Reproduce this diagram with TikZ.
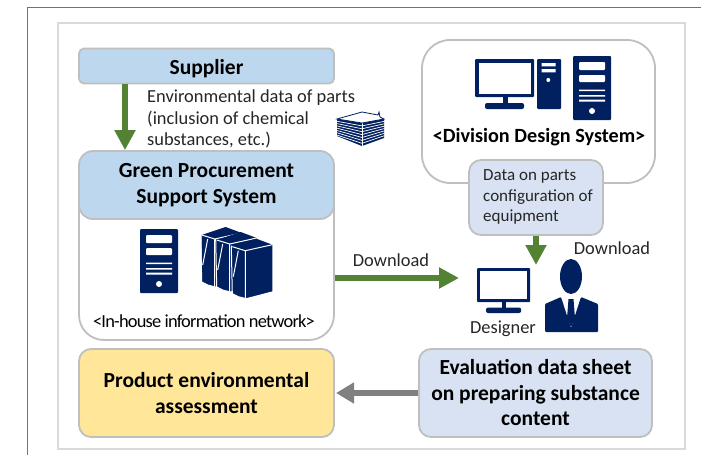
\documentclass[tikz,border=0pt]{standalone}
\usepackage{fontspec}
\setmainfont{Carlito}
\usetikzlibrary{arrows.meta}
\definecolor{navy}{HTML}{002060}
\definecolor{leaf}{HTML}{548235}
\definecolor{edge}{HTML}{BFBFBF}
\definecolor{skyfill}{HTML}{BDD7EE}
\definecolor{paleblue}{HTML}{D9E2F3}
\definecolor{sand}{HTML}{FFE699}
\tikzset{
  panel/.style={draw=edge,line width=1.8pt,rounded corners=#1,inner sep=0pt,align=center},
  bigtext/.style={font=\fontsize{21.5}{25.5}\selectfont\bfseries,execute at begin node=\rule{0pt}{21pt}},
  smalltext/.style={font=\fontsize{18.4}{21.6}\selectfont,text=black!85,inner sep=0pt},
  flow/.style={line width=6pt,draw=leaf,-{Triangle[width=20pt,length=20pt,fill=leaf]},shorten >=0pt},
  server/.pic={
    \fill[navy,rounded corners=1pt](0,0)rectangle(38,64);
    \fill[white,rounded corners=1pt](6,6)rectangle(32,14) (6,19)rectangle(32,26);
    \fill[white](6,33.5)rectangle(32,35) (6,39)rectangle(32,40.5) (6,43.5)rectangle(32,45.5);
    \fill[white](19,55)circle(3);
  },
  monitor/.pic={
    \fill[navy,rounded corners=1pt](0,0)rectangle(59,38);
    \fill[white](3.5,3.5)rectangle(55.5,34.5);
    \fill[navy](27.5,38)rectangle(32.5,44);
    \fill[navy,rounded corners=2pt](10,44)rectangle(49,50);
  },
  tower/.pic={
    \fill[navy,rounded corners=1pt](0,0)rectangle(24,50);
    \fill[white](4.6,4)rectangle(18.6,7.3) (4.6,10)rectangle(18.6,13.3);
    \fill[white](11.3,21)circle(2);
  },
}
\begin{document}
\begin{tikzpicture}[x=1pt,y=-1pt]
  \useasboundingbox(0,0)rectangle(701,455);
  \fill[white](0,0)rectangle(701,455);
  % frames
  \draw[black!55,line width=1pt](27,455)--(27,7)--(701,7);
  \draw[black!15,line width=2pt](58,23)rectangle(685,449);
  % boxes
  \node[panel=5pt,fill=skyfill,bigtext,minimum width=255pt,minimum height=35pt](supplier)at(206.5,66){Supplier};
  \node[panel=25pt,fill=white,minimum width=255pt,minimum height=189pt](network)at(206.5,245.5){};
  \node[panel=14pt,fill=skyfill,bigtext,minimum width=255pt,minimum height=68pt](green)at(206.5,185){Green Procurement\\Support System};
  \node[panel=12pt,fill=sand,bigtext,minimum width=255pt,minimum height=88pt](assess)at(206.5,393){Product environmental\\assessment};
  \node[panel=28pt,fill=white,minimum width=233pt,minimum height=143pt](division)at(538.5,111.5){};
  \node[panel=12pt,fill=paleblue,minimum width=134pt,minimum height=75pt](parts)at(536,197.5){};
  \node[panel=12pt,fill=paleblue,bigtext,minimum width=233pt,minimum height=88pt](sheet)at(535.5,393){Evaluation data sheet\\on preparing substance\\content};
  % texts
  \node[smalltext,align=left,anchor=west](envdata)at(147,119){Environmental data of parts\\(inclusion of chemical\\substances, etc.)};
  \node[smalltext,font=\fontsize{17}{20.5}\selectfont,align=left,anchor=west](partsdata)at(483,197){Data on parts\\configuration of\\equipment};
  \node[font=\fontsize{20.2}{24}\selectfont\bfseries,inner sep=0pt](divname)at(539,137){<Division Design System>};
  \node[smalltext,text=black](inhouse)at(204,321){\addfontfeature{LetterSpace=-4.3}<In-house information network>};
  \node[smalltext](dl)at(391,260){Download};
  \node[smalltext](dlb)at(612,248){Download};
  \node[smalltext](designer)at(503,329){Designer};
  % arrows
  \coordinate(desk)at(459,278);
  \coordinate(deskb)at(536,265);
  \coordinate(assessin)at(336,393);
  \draw[flow](supplier.south-|125,0)--(green.north-|125,0);
  \draw[flow](network.east|-desk)--(desk);
  \draw[flow](parts.south-|deskb)--(deskb);
  \draw[flow,draw=black!50,-{Triangle[width=20pt,length=18pt,fill=black!50]}](sheet.west)--(assessin);
  % icons
  \pic at(475,59){monitor};
  \pic at(537,59){tower};
  \pic at(573,56){server};
  \pic at(140,229){server};
  \pic[scale=.9] at(477,268){monitor};
  % books
  \foreach \dx/\dy in {201.7/235,216.7/240,232.3/246.7}{
    \fill[navy,shift={(\dx,\dy)}](0,0)--(24,-8)--(40,-2)--(40,45)--(14,52)--(6,50)--(0,47)--cycle;
    \draw[white,line width=1pt,shift={(\dx,\dy)}](-1,-1)--(0,47)--(6,50)--(14,52)--(41,45);
    \draw[white,line width=1pt,shift={(\dx,\dy)}](0,0)--(13,4)--(40,-2) (13,4)--(13,52) (6,4)--(1,30);
  }
  % paper stack
  \fill[navy](337,119)--(362,123)--(384,119)--(384,138)--(362,146)--(337,136)--cycle;
  \foreach \k in {1,...,7}{
    \draw[white,line width=.7pt](337,119+2.3*\k)--(362,123+2.9*\k)--(384,119+2.4*\k);
  }
  \draw[white,line width=.8pt](362,123)--(362,146);
  \fill[white,draw=navy,line width=.8pt](337,119)--(362,112)--(378,115)--(379,112)--(380,117)--(384,119)--(362,123)--cycle;
  % designer
  \fill[navy](571,276.5)ellipse(11 and 17.5);
  \fill[navy,rounded corners=1pt](545,304)--(561,297)--(571,328)--(581,297)--(598,304)--(598,332)--(545,332)--cycle;
  \fill[navy](568.5,299)--(573.5,299)--(575,318)--(571,327)--(567,318)--cycle;
\end{tikzpicture}
\end{document}
